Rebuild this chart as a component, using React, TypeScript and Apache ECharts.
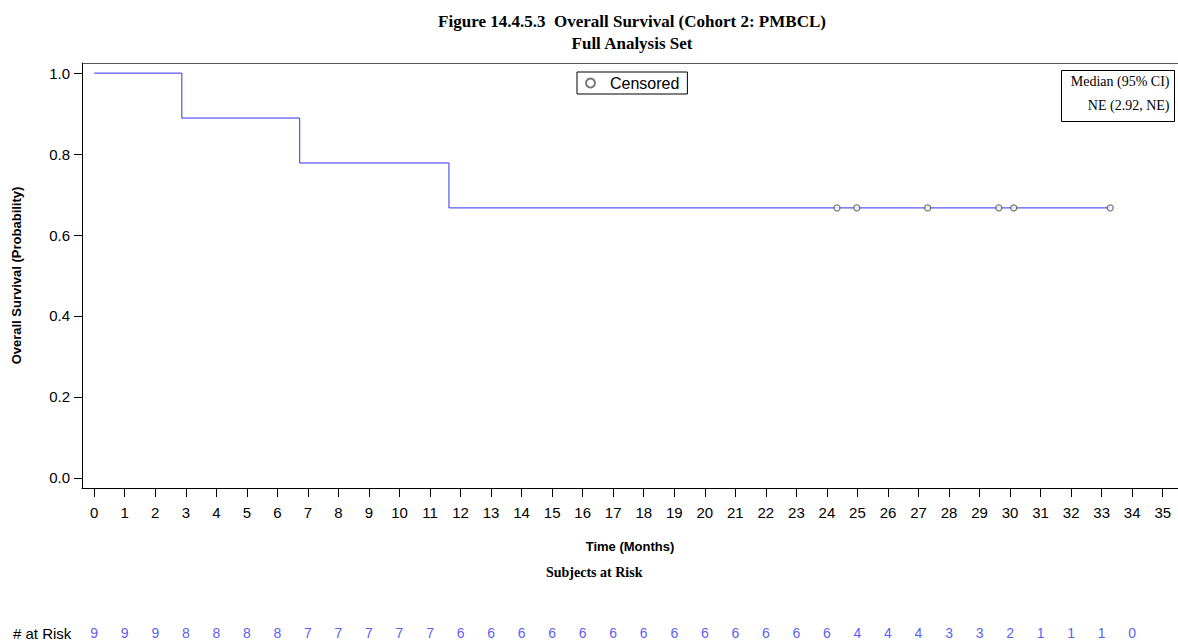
import React, { useEffect, useRef } from "react";
import * as echarts from "echarts";

const titleLines = ["Figure 14.4.5.3  Overall Survival (Cohort 2: PMBCL)", "Full Analysis Set"];
const eventTimes = [0, 2.87, 6.73, 11.62];
const survival = [1.0, 0.889, 0.778, 0.667];
const lastTime = 33.28;
const censorTimes = [24.33, 24.98, 27.3, 29.63, 30.12, 33.28];
const xTicks = Array.from({ length: 36 }, (_, i) => i);
const yTicks = [0, 0.2, 0.4, 0.6, 0.8, 1.0];
const riskMonths = [0,1,2,3,4,5,6,7,8,9,10,11,12,13,14,15,16,17,18,19,20,21,22,23,24,25,26,27,28,29,30,31,32,33,34];
const atRisk = [9,9,9,8,8,8,8,7,7,7,7,7,6,6,6,6,6,6,6,6,6,6,6,6,6,4,4,4,3,3,2,1,1,1,0];
const medianText = ["Median (95% CI)", "NE (2.92, NE)"];

const SANS = "'Liberation Sans', Arial, sans-serif";
const SERIF = "'Liberation Serif', 'Times New Roman', serif";
const BLUE = "#3030f5";

const X_MIN = -0.4;
const X_MAX = 35.5;
const GRID_LEFT = 82;
const GRID_WIDTH = (X_MAX - X_MIN) * 30.63;

export default function App() {
  const ref = useRef<HTMLDivElement>(null);
  useEffect(() => {
    if (!ref.current) return;
    const chart = echarts.init(ref.current, null, { renderer: "svg" });
    const lineData: [number, number][] = eventTimes.map((t, i) => [t, survival[i]]);
    lineData.push([lastTime, survival[survival.length - 1]]);
    const survAt = (t: number) => {
      let s = survival[0];
      eventTimes.forEach((et, i) => { if (t >= et) s = survival[i]; });
      return s;
    };
    const censorData = censorTimes.map((t) => [t, survAt(t)]);
    const riskData = riskMonths.map((m, i) => [m, 0.5, atRisk[i]]);

    chart.setOption({
      animation: false,
      backgroundColor: "#fff",
      title: {
        text: titleLines.join("\n"),
        left: 632,
        textAlign: "center",
        top: 10,
        padding: 0,
        textStyle: { fontFamily: SERIF, fontWeight: "bold", fontSize: 17, lineHeight: 22, color: "#000" },
      },
      legend: {
        data: [{ name: "Censored", icon: "circle" }],
        left: 577,
        top: 72,
        borderColor: "#000",
        borderWidth: 1,
        borderRadius: 0,
        padding: [3, 8, 3, 8],
        itemWidth: 9,
        itemHeight: 9,
        textStyle: { fontFamily: SANS, fontSize: 16, color: "#000", padding: [0, 0, 0, 10] },
      },
      grid: [
        { left: GRID_LEFT, top: 63, width: GRID_WIDTH, height: 425 },
        { left: GRID_LEFT, top: 624, width: GRID_WIDTH, height: 20 },
      ],
      xAxis: [
        {
          type: "value",
          gridIndex: 0,
          min: X_MIN,
          max: X_MAX,
          name: "Time (Months)",
          nameLocation: "middle",
          nameGap: 52,
          nameTextStyle: { fontFamily: SANS, fontWeight: "bold", fontSize: 13, color: "#000" },
          axisLine: { show: true, onZero: false, lineStyle: { color: "#000", width: 1 } },
          axisTick: { show: true, length: 9, customValues: xTicks, lineStyle: { color: "#000" } },
          axisLabel: { customValues: xTicks, margin: 17, fontFamily: SANS, fontSize: 15, color: "#000" },
          splitLine: { show: false },
        },
        {
          type: "value",
          gridIndex: 1,
          min: X_MIN,
          max: X_MAX,
          show: false,
        },
      ],
      yAxis: [
        {
          type: "value",
          gridIndex: 0,
          min: -0.025,
          max: 1.025,
          name: "Overall Survival (Probability)",
          nameLocation: "middle",
          nameGap: 59,
          nameRotate: 90,
          nameTextStyle: { fontFamily: SANS, fontWeight: "bold", fontSize: 13, color: "#000" },
          axisLine: { show: true, onZero: false, lineStyle: { color: "#000", width: 1 } },
          axisTick: { show: true, length: 8, customValues: yTicks, lineStyle: { color: "#000" } },
          axisLabel: {
            customValues: yTicks,
            margin: 12,
            fontFamily: SANS,
            fontSize: 15,
            color: "#000",
            formatter: (v: number) => v.toFixed(1),
          },
          splitLine: { show: false },
        },
        { type: "value", gridIndex: 1, min: 0, max: 1, show: false },
      ],
      series: [
        {
          type: "line",
          name: "Survival",
          xAxisIndex: 0,
          yAxisIndex: 0,
          step: "end",
          data: lineData,
          symbol: "none",
          lineStyle: { color: BLUE, width: 1 },
          silent: true,
        },
        {
          type: "scatter",
          name: "Censored",
          xAxisIndex: 0,
          yAxisIndex: 0,
          data: censorData,
          symbol: "circle",
          symbolSize: 6,
          itemStyle: { color: "#fff", borderColor: "#555", borderWidth: 1.3 },
          z: 5,
        },
        {
          type: "scatter",
          name: "At Risk",
          xAxisIndex: 1,
          yAxisIndex: 1,
          data: riskData,
          symbolSize: 1,
          itemStyle: { color: "rgba(0,0,0,0)" },
          label: {
            show: true,
            position: "inside",
            formatter: (p: any) => String(p.value[2]),
            fontFamily: SANS,
            fontSize: 14,
            color: BLUE,
          },
        },
      ],
      graphic: [
        {
          type: "line",
          shape: { x1: GRID_LEFT, y1: 63.5, x2: 1178, y2: 63.5 },
          style: { stroke: "#555", lineWidth: 1 },
        },
        {
          type: "text",
          left: 546,
          top: 565,
          style: { text: "Subjects at Risk", fontFamily: SERIF, fontWeight: "bold", fontSize: 14, fill: "#000" },
        },
        {
          type: "text",
          left: 13,
          top: 626,
          style: { text: "# at Risk", fontFamily: SANS, fontSize: 15, fill: "#000" },
        },
        {
          type: "group",
          left: 1061,
          top: 70,
          children: [
            { type: "rect", shape: { x: 0, y: 0, width: 113, height: 51 }, style: { fill: "#fff", stroke: "#000", lineWidth: 1 } },
            {
              type: "text",
              x: 108,
              y: 4,
              style: { text: medianText[0], align: "right", fontFamily: SERIF, fontSize: 14, fill: "#000" },
            },
            {
              type: "text",
              x: 108,
              y: 28,
              style: { text: medianText[1], align: "right", fontFamily: SERIF, fontSize: 14, fill: "#000" },
            },
          ],
        },
      ],
    });
    return () => chart.dispose();
  }, []);
  return (
    <div
      ref={ref}
      style={{ position: "fixed", left: 0, top: 0, width: 1178, height: 642, background: "#fff" }}
    />
  );
}
